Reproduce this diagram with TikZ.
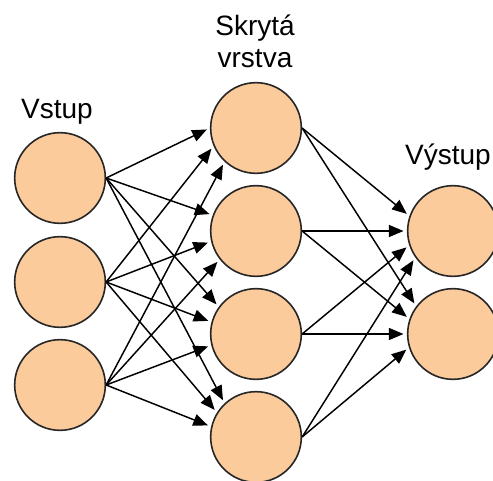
\documentclass[tikz,border=0pt]{standalone}
\usepackage{fontspec}
\setmainfont{Liberation Sans}
\usetikzlibrary{arrows.meta}
\definecolor{peach}{RGB}{252,203,156}
\begin{document}
\begin{tikzpicture}[x=0.75pt,y=-0.75pt,
  neuron/.style={circle,draw=black!85,line width=1.2pt,fill=peach,minimum size=68pt,inner sep=0pt},
  conn/.style={-{Triangle[length=11pt,width=9pt]},line width=1.1pt,shorten >=2.5pt},
  lbl/.style={font=\fontsize{21}{24}\selectfont,anchor=base,inner sep=0pt}]
\useasboundingbox (0,0) rectangle (493,481);
% input layer
\node[neuron] (i1) at (60,178) {};
\node[neuron] (i2) at (60,282) {};
\node[neuron] (i3) at (60,385) {};
% hidden layer
\node[neuron] (h1) at (256,128) {};
\node[neuron] (h2) at (256,231) {};
\node[neuron] (h3) at (256,334) {};
\node[neuron] (h4) at (256,437) {};
% output layer
\node[neuron] (o1) at (453,231) {};
\node[neuron] (o2) at (453,334) {};
% labels
\node[lbl] (lin) at (57,119) {Vstup};
\node[lbl] (lh1) at (255,36) {Skrytá};
\node[lbl] (lh2) at (255,68) {vrstva};
\node[lbl] (lout) at (448,165) {Výstup};
% input -> hidden
\foreach \s/\t/\a in {i1/h1/180, i2/h1/203, i3/h1/227,
                      i1/h2/160, i2/h2/193, i3/h2/218,
                      i1/h3/144, i2/h3/165, i3/h3/194,
                      i1/h4/133, i2/h4/148, i3/h4/167}
  \draw[conn] (\s.east) -- (\t.\a);
% hidden -> output
\foreach \s/\t/\a in {h1/o1/161, h2/o1/180, h3/o1/198, h4/o1/215,
                      h1/o2/143, h2/o2/161, h3/o2/180, h4/o2/197}
  \draw[conn] (\s.east) -- (\t.\a);
\end{tikzpicture}
\end{document}
